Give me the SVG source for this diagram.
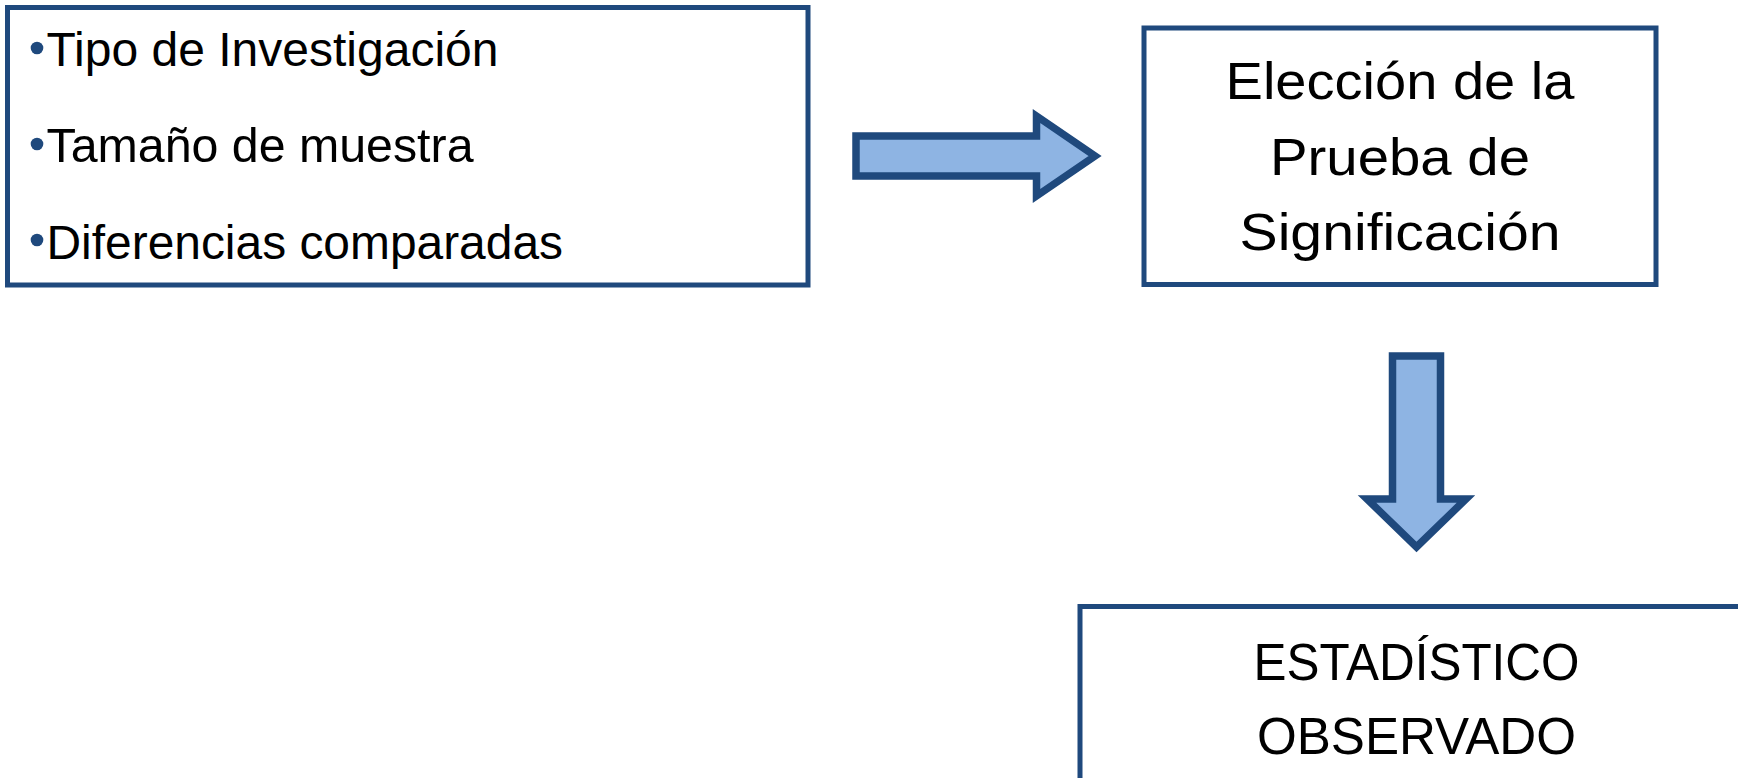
<svg xmlns="http://www.w3.org/2000/svg" width="1738" height="778" viewBox="0 0 1738 778">
<style>
.box{fill:#FFFFFF;stroke:#1F497D;stroke-width:5;}
.arrow{fill:#8EB4E3;stroke:#1F497D;stroke-width:7.5;stroke-linejoin:miter;stroke-miterlimit:10;}
.t{font-family:"Liberation Sans",Arial,sans-serif;fill:#000000;}
.l{font-size:48px;}
.c{font-size:52.5px;text-anchor:middle;}
.bullet{fill:#1F497D;}
</style>
<rect width="1738" height="778" fill="#FFFFFF"/>
<g id="node-factores">
<rect class="box" x="7.5" y="7.5" width="800.5" height="277.5"/>
<circle class="bullet" cx="37" cy="48" r="6.3"/>
<text class="t l" x="46.5" y="66" textLength="452" lengthAdjust="spacingAndGlyphs">Tipo de Investigación</text>
<circle class="bullet" cx="37" cy="144" r="6.3"/>
<text class="t l" x="46.5" y="162.3" textLength="427" lengthAdjust="spacingAndGlyphs">Tamaño de muestra</text>
<circle class="bullet" cx="37" cy="240" r="6.3"/>
<text class="t l" x="46.5" y="258.5" textLength="516.5" lengthAdjust="spacingAndGlyphs">Diferencias comparadas</text>
</g>
<g id="node-eleccion">
<rect class="box" x="1144" y="28" width="512" height="256.5"/>
<text class="t c" x="1400" y="98.5" textLength="349" lengthAdjust="spacingAndGlyphs">Elección de la</text>
<text class="t c" x="1400" y="174.5" textLength="260" lengthAdjust="spacingAndGlyphs">Prueba de</text>
<text class="t c" x="1400" y="249.5" textLength="321" lengthAdjust="spacingAndGlyphs">Significación</text>
</g>
<g id="node-estadistico">
<rect class="box" x="1080" y="606.5" width="720" height="300"/>
<text class="t c" x="1416.5" y="679.5" textLength="326" lengthAdjust="spacingAndGlyphs">ESTADÍSTICO</text>
<text class="t c" x="1416.5" y="753.7" textLength="319" lengthAdjust="spacingAndGlyphs">OBSERVADO</text>
</g>
<g id="connectors">
<path class="arrow" d="M856,136 L1036.5,136 L1036.5,116 L1095,156 L1036.5,196 L1036.5,176 L856,176 Z"/>
<path class="arrow" d="M1392.5,356 L1440.5,356 L1440.5,499 L1466,499 L1416.5,547 L1367,499 L1392.5,499 Z"/>
</g>
</svg>
